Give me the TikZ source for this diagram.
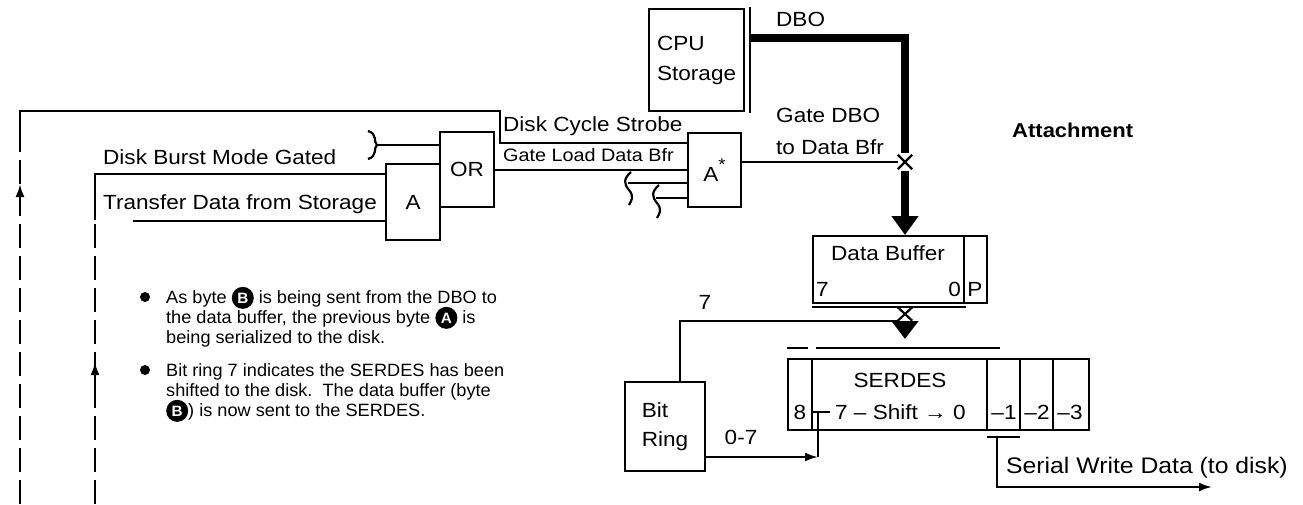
\documentclass[tikz,border=0pt]{standalone}
\usepackage{fontspec}
\setmainfont{Liberation Sans}[FakeStretch=1.1]
\newfontfamily\bulfont{Liberation Sans}[FakeStretch=1.02]
\usetikzlibrary{arrows.meta}
\newcommand\cl[1]{\tikz[baseline=(cc.base)]\node[circle,fill=black,text=white,inner sep=0pt,minimum size=22pt,font=\bfseries\fontsize{15}{15}\selectfont](cc){#1};}
\begin{document}
\begin{tikzpicture}[x=1pt,y=-1pt,
  lab/.style={inner sep=0pt, font=\fontsize{20.5}{24}\selectfont},
  sm/.style={inner sep=0pt, font=\fontsize{18}{21}\selectfont},
  bl/.style={inner sep=0pt, anchor=base west, font=\bulfont\fontsize{17.8}{20}\selectfont},
  box/.style={draw, line width=2.2pt, inner sep=0pt, anchor=north west},
  wire/.style={line width=2.2pt},
  bus/.style={line width=8pt},
  dline/.style={line width=2.2pt, dash pattern=on 24pt off 8pt},
  arr/.style={-{Latex[length=13pt,width=9pt]}},
  xmark/.style={inner sep=0pt, minimum width=14pt, minimum height=14pt}]
\useasboundingbox (0,0) rectangle (1303,504);

% ---- boxes
\node[box, minimum width=95pt, minimum height=102pt, align=left, font=\fontsize{20.5}{30}\selectfont] (cpu) at (648,8) {CPU\\Storage};
\node[box, minimum width=54pt, minimum height=76pt, font=\fontsize{20.5}{24}\selectfont] (agate) at (385,163) {A};
\node[box, minimum width=54pt, minimum height=75pt, font=\fontsize{20.5}{24}\selectfont] (orgate) at (439,131) {OR};
\node[box, minimum width=53pt, minimum height=74pt, font=\fontsize{20.5}{24}\selectfont] (astar) at (687,132) {A\raisebox{0.55em}{\fontsize{17}{17}\selectfont *}};
\node[box, minimum width=174pt, minimum height=67pt] (databuf) at (812,235) {};
\node[box, minimum width=301pt, minimum height=71pt] (serdes) at (787,358) {};
\node[box, minimum width=80pt, minimum height=89pt, align=left, font=\fontsize{20.5}{29}\selectfont] (bitring) at (624,381) {Bit\\Ring};

% dividers
\draw[wire] (964,235) -- (964,302);
\foreach \xx in {812,987,1020,1053} \draw[wire] (\xx,358) -- (\xx,429);

% ---- texts
\node[lab, anchor=west] (tdbm) at (103,157) {Disk Burst Mode Gated};
\node[lab, anchor=west] (ttds) at (103,204) {Transfer Data from Storage};
\node[lab, anchor=west] (tdcs) at (503,126) {Disk Cycle Strobe};
\node[sm, anchor=west] (tgld) at (503,155) {Gate Load Data Bfr};
\node[lab, anchor=west] (tdbo) at (776,19) {DBO};
\node[lab, anchor=west] (tg1) at (776,115) {Gate DBO};
\node[lab, anchor=west] (tg2) at (776,147) {to Data Bfr};
\node[lab, anchor=west, font=\bfseries\fontsize{20}{24}\selectfont] (tatt) at (1012,130) {Attachment};
\node[lab] (tdb) at (888,253) {Data Buffer};
\node[lab, anchor=west] (tdb7) at (816,289) {7};
\node[lab, anchor=east] (tdb0) at (961,289) {0};
\node[lab] (tdbp) at (975,289) {P};
\node[lab] (tser) at (900,380) {SERDES};
\node[lab] (ts8) at (800,412) {8};
\node[lab, anchor=west] (tsh) at (835,412) {7 -- Shift \textrightarrow\ 0};
\node[lab] (tm1) at (1004,412) {--1};
\node[lab] (tm2) at (1037,412) {--2};
\node[lab] (tm3) at (1070,412) {--3};
\node[lab] (t7) at (705,302) {7};
\node[lab] (t07) at (741,437) {0-7};
\node[anchor=west, inner sep=0pt, font=\fontsize{22.5}{26}\selectfont] (tswd) at (1006,468) {Serial Write Data (to disk)};

% bullets
\fill (145,297) circle (5pt);
\fill (145,370) circle (5pt);
\node[bl] (b1) at (166,303) {As byte \cl{B} is being sent from the DBO to};
\node[bl] (b2) at (166,323) {the data buffer, the previous byte \cl{A} is};
\node[bl] (b3) at (166,343) {being serialized to the disk.};
\node[bl] (b4) at (166,376) {Bit ring 7 indicates the SERDES has been};
\node[bl] (b5) at (166,396) {shifted to the disk.\ \ The data buffer (byte};
\node[bl] (b6) at (166,416) {\cl{B}) is now sent to the SERDES.};

% ---- X marks
\node[xmark] (xa) at (905,162) {};
\draw[wire] (xa.north west) -- (xa.south east) (xa.north east) -- (xa.south west);
\node[xmark, minimum height=13pt] (xb) at (905,314) {};
\draw[wire] (xb.north west) -- (xb.south east) (xb.north east) -- (xb.south west);

% ---- left loop lines
\draw[wire] (20,143) -- (20,111) -- (500,111) -- (500,143) -- (astar.west |- 0,143);
\draw[dline] (20,504) -- (20,143);
\draw[wire, arr] (20,205) -- (20,184);
\draw[wire] (95,220) -- (95,174) -- (agate.west |- 0,174);
\draw[dline] (95,504) -- (95,220);
\draw[wire, arr] (95,384) -- (95,362);
\draw[wire] (133,221) -- (agate.west |- 0,221);

% brace into OR
\draw[wire] (368,131) .. controls (378,134) and (373,142) .. (377,145) .. controls (373,148) and (378,156) .. (368,159);
\draw[wire] (377,145) -- (orgate.west |- 0,145);
% OR to A*
\draw[wire] (orgate.east |- 0,170) -- (astar.west |- 0,170);
% squiggles
\draw[wire] (631,172) .. controls (623,179) and (624,184) .. (629,190) .. controls (634,196) and (632,200) .. (629,205);
\draw[wire] (628,183) -- (astar.west |- 0,183);
\draw[wire] (659,185) .. controls (651,192) and (652,197) .. (657,203) .. controls (662,209) and (660,213) .. (657,218);
\draw[wire] (656,198) -- (astar.west |- 0,198);
% A* to X
\draw[wire] (astar.east |- xa) -- (xa.west);

% ---- DBO bus
\coordinate (cbar) at (750,38);
\draw[wire] (750,7) -- (750,113);
\draw[bus] (cbar) -| ([yshift=2pt]xa.north);
\draw[bus, -{Triangle[length=19pt 0 0, width=26pt 0 0]}] ([yshift=-2pt]xa.south) -- (xa.south |- databuf.north);

% ---- buffer to serdes
\draw[wire] (812,307) -- (966,307);
\draw[wire] ([xshift=15pt]bitring.north) |- (xb.south west);
\draw[bus, -{Triangle[length=18pt 0 0, width=26pt 0 0]}] (xb.south) -- (905,339);
\draw[wire] (787,348) -- (808,348);
\draw[wire] (816,348) -- (1000,348);

% ---- bit ring 0-7
\draw[wire, arr] (bitring.east |- 0,457) -- (818,457);
\draw[wire] (818,457) -- (818,412);
\draw[wire] (812,412) -- (830,412);

% ---- serial write data
\draw[wire] (987,437) -- (1020,437);
\draw[wire, arr] (997,437) |- (1212,487);
\end{tikzpicture}
\end{document}
